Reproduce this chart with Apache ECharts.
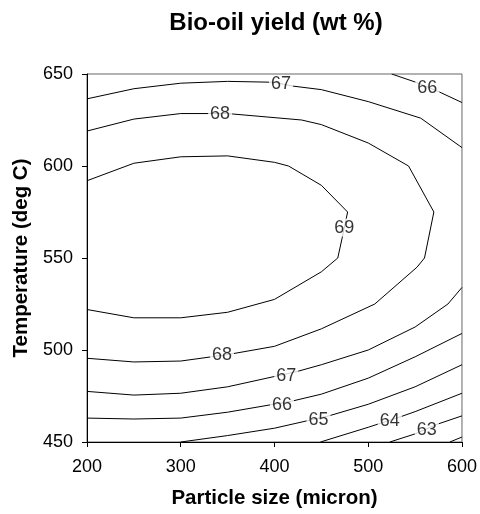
<!DOCTYPE html>
<html>
<head>
<meta charset="utf-8">
<script src="https://cdn.jsdelivr.net/npm/echarts@6/dist/echarts.min.js"></script>
<style>
  html, body { margin: 0; padding: 0; background: #fff; }
  #chart { width: 480px; height: 514px; }
</style>
</head>
<body>
<div id="chart"></div>
<script>
// Axis ranges and tick steps
const xRange = [200, 600];
const yRange = [450, 650];
const xStep = 100;
const yStep = 50;

// Contour polylines, points as [particle size (micron), temperature (deg C)]
const c69 = [[200, 592], [250, 601.5], [300, 605], [350, 605.5], [400, 602], [415, 600], [450, 589.5], [478, 575], [472, 560.5], [467.5, 550], [450, 542.5], [400, 527.5], [350, 520.5], [300, 517.5], [250, 517.5], [200, 522]];
const c68 = [[200, 619], [250, 625.5], [300, 628.5], [350, 628.5], [429, 625], [450, 622.5], [500, 612.5], [543, 600], [570, 575], [560, 550], [552, 545], [507, 525], [450, 511.5], [400, 502], [350, 497.5], [300, 494], [250, 493.5], [200, 495.5]];
const c67Upper = [[200, 636.5], [250, 642], [300, 645], [350, 646], [400, 645.5], [418.5, 643.5], [450, 641.5], [500, 635], [556, 626], [600, 610]];
const c67Lower = [[200, 477.5], [250, 475.5], [300, 476.5], [350, 480], [424, 488.3], [450, 492], [500, 500], [550, 512.5], [585, 525], [600, 534]];
const c66Upper = [[525, 650], [551.5, 645.4], [576, 640.2], [600, 634.5]];
const c66Lower = [[200, 463], [250, 462.5], [300, 463], [350, 466.2], [418.5, 472.2], [450, 476], [500, 484.7], [550, 496.3], [600, 509]];
const c65 = [[300, 450], [350, 453.5], [400, 457.5], [458, 464.2], [500, 470.5], [550, 480], [600, 492]];
const c64 = [[449, 450], [500, 458], [535.5, 463.9], [550, 466.5], [600, 476.5]];
const c63 = [[523, 450], [550, 454.4], [574.5, 459.8], [600, 464.2]];
const c62 = [[587, 450], [600, 452.7]];

const contourLines = [c69, c68, c67Upper, c67Lower, c66Upper, c66Lower, c65, c64, c63, c62];

// Inline contour labels: [x, y, level]
const contourLabels = [
  [407, 644.5, 67], [342, 628.5, 68], [563, 642.5, 66], [474.5, 566.5, 69],
  [344, 497, 68], [412.5, 486, 67], [408, 470, 66], [447, 462, 65],
  [523, 461.2, 64], [562.5, 456.7, 63]
];

const FONT = 'Liberation Sans, Arial, Helvetica, sans-serif';

const chart = echarts.init(document.getElementById('chart'), null, { renderer: 'canvas' });

const series = contourLines.map(pts => ({
  type: 'line',
  data: pts,
  showSymbol: false,
  symbol: 'none',
  smooth: false,
  silent: true,
  z: 2,
  lineStyle: { color: '#000', width: 1 }
}));

series.push({
  type: 'scatter',
  data: contourLabels,
  symbol: 'circle',
  symbolSize: 1,
  silent: true,
  z: 5,
  itemStyle: { color: 'rgba(0,0,0,0)' },
  label: {
    show: true,
    position: 'inside',
    formatter: p => String(p.value[2]),
    fontFamily: FONT,
    fontSize: 18,
    color: '#000',
    backgroundColor: '#fff',
    padding: [0, 2]
  }
});

chart.setOption({
  animation: false,
  backgroundColor: '#fff',
  grid: {
    left: 87, right: 16, top: 74, bottom: 66,
    show: true, borderColor: '#666', borderWidth: 1, backgroundColor: 'transparent'
  },
  graphic: [{
    type: 'text',
    x: 276, y: 23,
    style: {
      text: 'Bio-oil yield (wt %)',
      font: 'bold 24px ' + FONT,
      fill: '#000',
      textAlign: 'center',
      textVerticalAlign: 'middle'
    }
  }],
  xAxis: {
    type: 'value',
    min: xRange[0], max: xRange[1], interval: xStep,
    name: 'Particle size (micron)',
    nameLocation: 'middle',
    nameGap: 46,
    nameTextStyle: { fontFamily: FONT, fontSize: 20.5, fontWeight: 'bold', color: '#000' },
    axisLine: { show: true, lineStyle: { color: '#000', width: 1 } },
    axisTick: { show: true, inside: false, length: 5, lineStyle: { color: '#000' } },
    axisLabel: { fontFamily: FONT, fontSize: 18, color: '#000', margin: 16 },
    splitLine: { show: false }
  },
  yAxis: {
    type: 'value',
    min: yRange[0], max: yRange[1], interval: yStep,
    name: 'Temperature (deg C)',
    nameLocation: 'middle',
    nameGap: 54,
    nameTextStyle: { fontFamily: FONT, fontSize: 20.5, fontWeight: 'bold', color: '#000' },
    axisLine: { show: true, lineStyle: { color: '#000', width: 1 } },
    axisTick: { show: true, inside: false, length: 5, lineStyle: { color: '#000' } },
    axisLabel: { fontFamily: FONT, fontSize: 18, color: '#000', margin: 14 },
    splitLine: { show: false }
  },
  series: series
});
</script>
</body>
</html>
